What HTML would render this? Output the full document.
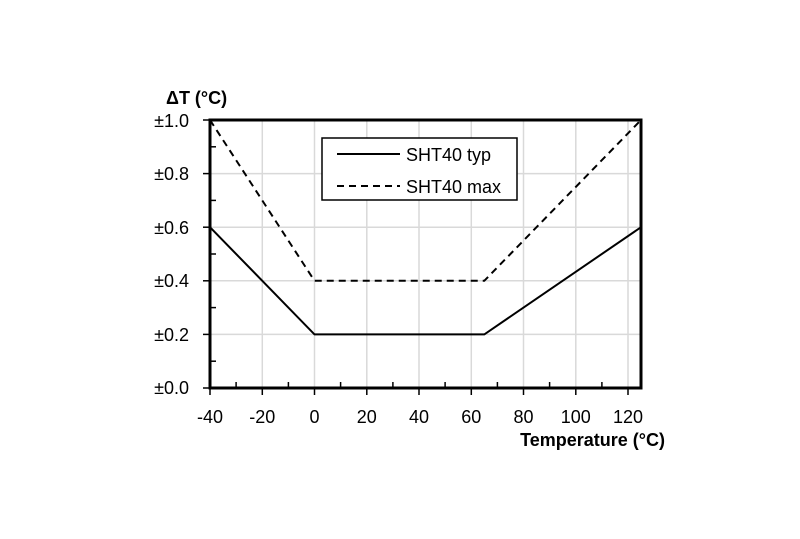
<!DOCTYPE html>
<html><head><meta charset="utf-8"><style>body{margin:0;background:#fff}</style></head><body>
<svg width="800" height="534" xmlns="http://www.w3.org/2000/svg" font-family="Liberation Sans, Arial, sans-serif">
<g stroke="#d9d9d9" stroke-width="1.5">
<line x1="262.3" y1="120" x2="262.3" y2="388"/><line x1="314.5" y1="120" x2="314.5" y2="388"/><line x1="366.8" y1="120" x2="366.8" y2="388"/><line x1="419" y1="120" x2="419" y2="388"/><line x1="471.3" y1="120" x2="471.3" y2="388"/><line x1="523.5" y1="120" x2="523.5" y2="388"/><line x1="575.8" y1="120" x2="575.8" y2="388"/><line x1="628" y1="120" x2="628" y2="388"/>
<line x1="210" y1="334.4" x2="641" y2="334.4"/><line x1="210" y1="280.8" x2="641" y2="280.8"/><line x1="210" y1="227.2" x2="641" y2="227.2"/><line x1="210" y1="173.6" x2="641" y2="173.6"/>
</g>
<g stroke="#000" stroke-width="1.5">
<line x1="203" y1="388" x2="210" y2="388"/><line x1="203" y1="334.4" x2="210" y2="334.4"/><line x1="203" y1="280.8" x2="210" y2="280.8"/><line x1="203" y1="227.2" x2="210" y2="227.2"/><line x1="203" y1="173.6" x2="210" y2="173.6"/><line x1="203" y1="120" x2="210" y2="120"/>
<line x1="210" y1="361.2" x2="216" y2="361.2"/><line x1="210" y1="307.6" x2="216" y2="307.6"/><line x1="210" y1="254" x2="216" y2="254"/><line x1="210" y1="200.4" x2="216" y2="200.4"/><line x1="210" y1="146.8" x2="216" y2="146.8"/>
<line x1="210" y1="388" x2="210" y2="395"/><line x1="262.3" y1="388" x2="262.3" y2="395"/><line x1="314.5" y1="388" x2="314.5" y2="395"/><line x1="366.8" y1="388" x2="366.8" y2="395"/><line x1="419" y1="388" x2="419" y2="395"/><line x1="471.3" y1="388" x2="471.3" y2="395"/><line x1="523.5" y1="388" x2="523.5" y2="395"/><line x1="575.8" y1="388" x2="575.8" y2="395"/><line x1="628" y1="388" x2="628" y2="395"/>
<line x1="236.1" y1="388" x2="236.1" y2="382"/><line x1="288.4" y1="388" x2="288.4" y2="382"/><line x1="340.6" y1="388" x2="340.6" y2="382"/><line x1="392.9" y1="388" x2="392.9" y2="382"/><line x1="445.1" y1="388" x2="445.1" y2="382"/><line x1="497.4" y1="388" x2="497.4" y2="382"/><line x1="549.6" y1="388" x2="549.6" y2="382"/><line x1="601.9" y1="388" x2="601.9" y2="382"/>
</g>
<rect x="210" y="120" width="431" height="268" fill="none" stroke="#000" stroke-width="3"/>
<polyline points="210,227.2 314.5,334.4 484.3,334.4 641,227.2" fill="none" stroke="#000" stroke-width="2"/>
<polyline points="210,120 314.5,280.8 484.3,280.8 641,120" fill="none" stroke="#000" stroke-width="2" stroke-dasharray="7,5"/>
<rect x="322" y="138" width="195" height="62" fill="#fff" stroke="#000" stroke-width="1.5"/>
<line x1="337" y1="154" x2="400" y2="154" stroke="#000" stroke-width="2"/>
<line x1="337" y1="186" x2="400" y2="186" stroke="#000" stroke-width="2" stroke-dasharray="7,5"/>
<g font-size="18" fill="#000">
<text x="406" y="161">SHT40 typ</text><text x="406" y="193">SHT40 max</text>
<g text-anchor="end"><text x="189" y="394">±0.0</text><text x="189" y="341">±0.2</text><text x="189" y="287">±0.4</text><text x="189" y="234">±0.6</text><text x="189" y="180">±0.8</text><text x="189" y="127">±1.0</text></g>
<g text-anchor="middle"><text x="210" y="423">-40</text><text x="262.3" y="423">-20</text><text x="314.5" y="423">0</text><text x="366.8" y="423">20</text><text x="419" y="423">40</text><text x="471.3" y="423">60</text><text x="523.5" y="423">80</text><text x="575.8" y="423">100</text><text x="628" y="423">120</text></g>
<text x="665" y="446" text-anchor="end" font-weight="bold">Temperature (°C)</text>
<text x="166" y="104" font-weight="bold">ΔT (°C)</text>
</g>
</svg>
</body></html>
